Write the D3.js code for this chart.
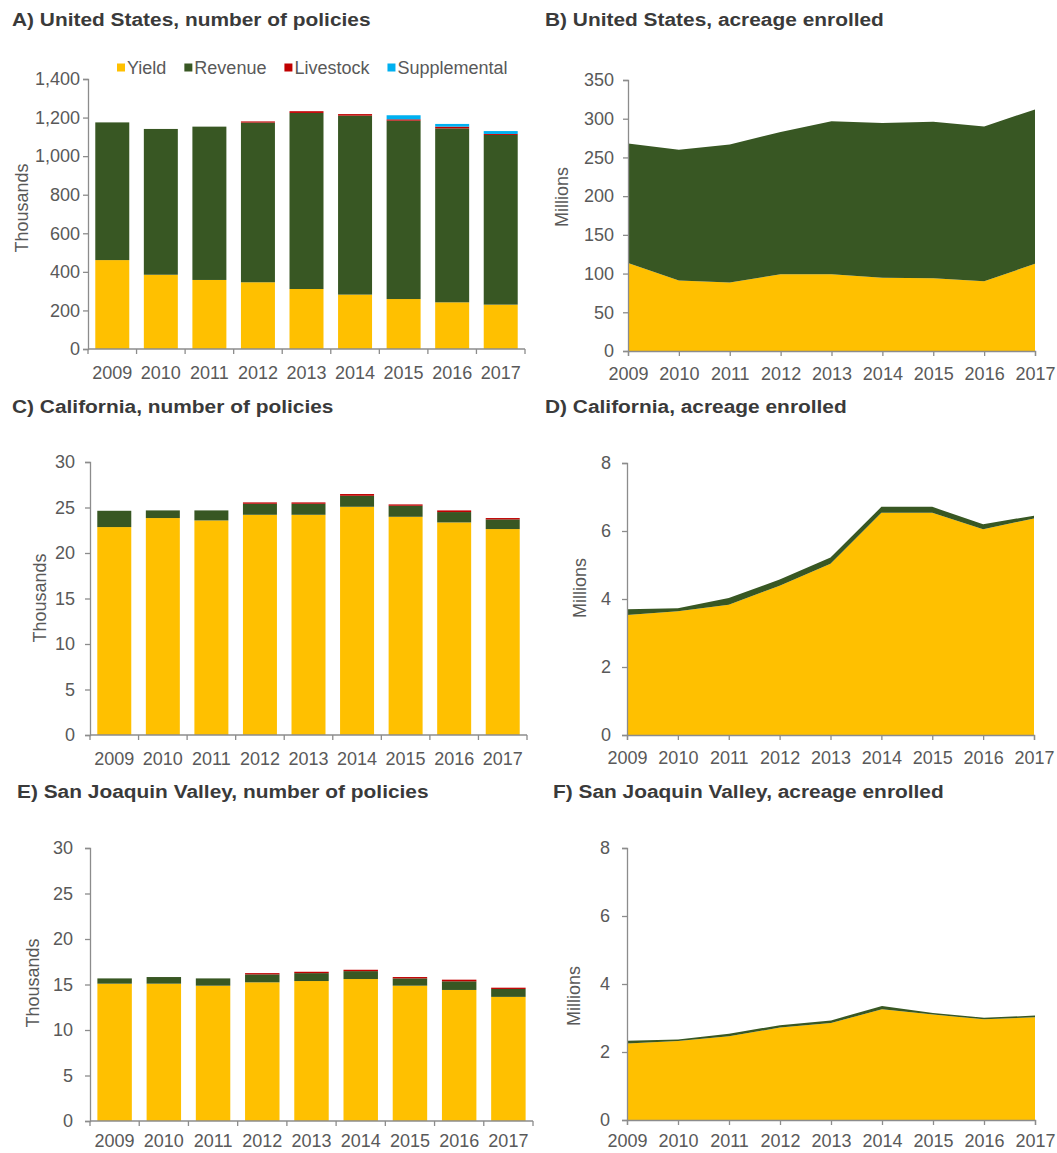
<!DOCTYPE html>
<html>
<head>
<meta charset="utf-8">
<script src="https://cdn.jsdelivr.net/npm/d3@7"></script>
<style>
  html, body { margin: 0; padding: 0; background: #fff; }
  svg { display: block; }
  text { font-family: "Liberation Sans", Arial, sans-serif; }
</style>
</head>
<body>
<svg id="chart" width="1057" height="1153"></svg>
<script>
// ---- Data -------------------------------------------------------------
const years = ["2009", "2010", "2011", "2012", "2013", "2014", "2015", "2016", "2017"];
const seriesNames = ["Yield", "Revenue", "Livestock", "Supplemental"];

// United States, number of policies (thousands)
const usPolYield        = [461, 385, 358, 346, 311, 282, 259, 242, 230];
const usPolRevenue      = [714, 756, 795, 828, 913, 928, 925, 902, 880];
const usPolLivestock    = [0, 0, 0, 6, 9, 8, 7, 9, 5];
const usPolSupplemental = [0, 0, 0, 0, 0, 0, 21, 14, 15];

// United States, acreage enrolled (millions)
const usAcreYield   = [113.5, 91, 88.6, 99, 99, 94.6, 94, 90, 112.6];
const usAcreRevenue = [154.5, 169, 178, 184, 197.6, 200, 202, 200, 199.4];

// California, number of policies (thousands)
const caPolYield        = [22.85, 23.84, 23.58, 24.2, 24.2, 25.08, 23.98, 23.36, 22.63];
const caPolRevenue      = [1.79, 0.84, 1.10, 1.21, 1.21, 1.21, 1.21, 1.14, 1.06];
const caPolLivestock    = [0, 0, 0, 0.15, 0.15, 0.19, 0.15, 0.18, 0.15];
const caPolSupplemental = [0, 0, 0, 0, 0, 0, 0, 0, 0];

// California, acreage enrolled (millions)
const caAcreYield   = [3.53, 3.64, 3.83, 4.39, 5.04, 6.54, 6.54, 6.05, 6.37];
const caAcreRevenue = [0.17, 0.09, 0.20, 0.18, 0.18, 0.17, 0.17, 0.15, 0.08];

// San Joaquin Valley, number of policies (thousands)
const sjvPolYield        = [15.09, 15.09, 14.87, 15.24, 15.38, 15.6, 14.87, 14.4, 13.64];
const sjvPolRevenue      = [0.58, 0.73, 0.80, 0.87, 0.87, 0.87, 0.80, 0.95, 0.87];
const sjvPolLivestock    = [0, 0, 0, 0.14, 0.15, 0.15, 0.15, 0.18, 0.14];
const sjvPolSupplemental = [0, 0, 0, 0, 0, 0, 0, 0, 0];

// San Joaquin Valley, acreage enrolled (millions)
const sjvAcreYield   = [2.25, 2.32, 2.46, 2.72, 2.85, 3.26, 3.1, 2.96, 3.02];
const sjvAcreRevenue = [0.08, 0.05, 0.08, 0.07, 0.08, 0.09, 0.05, 0.05, 0.05];

// ---- Styling ----------------------------------------------------------
const colors = { Yield: "#FFC000", Revenue: "#385723", Livestock: "#C00000", Supplemental: "#00B0F0" };
const textGray = "#595959";
const titleGray = "#3A3A3A";
const axisGray = "#8C8C8C";

const svg = d3.select("#chart");
svg.append("rect").attr("width", 1057).attr("height", 1153).attr("fill", "#fff");

function rows(cols) {
  return years.map((y, i) => {
    const r = { year: y };
    Object.keys(cols).forEach(k => r[k] = cols[k][i]);
    return r;
  });
}

function title(txt, x, y, sx) {
  svg.append("text")
    .attr("transform", `translate(${x},${y}) scale(${sx},1)`)
    .attr("font-size", 18.5).attr("font-weight", "bold")
    .attr("fill", titleGray).text(txt);
}

function yAxis(g, y, x0, ticks, fmt, pad) {
  const ax = d3.axisLeft(y).tickValues(ticks).tickFormat(fmt).tickSize(5).tickPadding(pad);
  const a = g.append("g").attr("transform", `translate(${x0},0)`).call(ax);
  a.select(".domain").attr("stroke", axisGray).attr("stroke-width", 1.3);
  a.selectAll(".tick line").attr("stroke", axisGray).attr("stroke-width", 1.3);
  a.selectAll("text").attr("font-size", 18).attr("fill", textGray)
    .attr("font-family", "Liberation Sans, Arial, sans-serif");
}

function yLabel(txt, x, y) {
  svg.append("text")
    .attr("transform", `translate(${x},${y}) rotate(-90)`)
    .attr("text-anchor", "middle").attr("dominant-baseline", "central")
    .attr("font-size", 18).attr("fill", textGray).text(txt);
}

// Stacked bar panel: policies by plan type
function barPanel(p) {
  const g = svg.append("g");
  const x = d3.scaleBand().domain(years).range([p.x0, p.x1]).paddingInner(0.3).paddingOuter(0.15);
  const y = d3.scaleLinear().domain([0, p.max]).range([p.yb, p.yt]);
  const data = rows(p.cols);
  const stack = d3.stack().keys(seriesNames)(data);

  g.selectAll("g.layer").data(stack).join("g")
    .attr("fill", d => colors[d.key])
    .selectAll("rect").data(d => d).join("rect")
    .attr("x", d => x(d.data.year))
    .attr("width", x.bandwidth())
    .attr("y", d => y(d[1]))
    .attr("height", d => Math.max(0, y(d[0]) - y(d[1])));

  yAxis(g, y, p.x0, p.ticks, p.fmt, p.pad);

  // category axis with ticks on the band boundaries
  const step = x.step();
  const bounds = d3.range(years.length + 1).map(i => p.x0 + i * step);
  g.append("line").attr("x1", p.x0).attr("x2", p.x1).attr("y1", p.yb).attr("y2", p.yb)
    .attr("stroke", axisGray).attr("stroke-width", 1.3);
  g.selectAll("line.bt").data(bounds).join("line").attr("class", "bt")
    .attr("x1", d => d).attr("x2", d => d).attr("y1", p.yb).attr("y2", p.yb + 5)
    .attr("stroke", axisGray).attr("stroke-width", 1.3);
  g.selectAll("text.yr").data(years).join("text").attr("class", "yr")
    .attr("x", d => x(d) + x.bandwidth() / 2).attr("y", p.yb + p.labelOff)
    .attr("text-anchor", "middle").attr("font-size", 18).attr("fill", textGray)
    .text(d => d);
}

// Stacked area panel: acreage enrolled
function areaPanel(p) {
  const g = svg.append("g");
  const x = d3.scalePoint().domain(years).range([p.x0, p.x1]);
  const y = d3.scaleLinear().domain([0, p.max]).range([p.yb, p.yt]);
  const data = rows(p.cols);
  const stack = d3.stack().keys(["Yield", "Revenue"])(data);
  const area = d3.area().x(d => x(d.data.year)).y0(d => y(d[0])).y1(d => y(d[1]));

  g.selectAll("path.layer").data(stack).join("path").attr("class", "layer")
    .attr("fill", d => colors[d.key]).attr("d", area);

  yAxis(g, y, p.x0, p.ticks, p.fmt, p.pad);

  const xa = d3.axisBottom(x).tickSize(5).tickPadding(p.xPad);
  const a = g.append("g").attr("transform", `translate(0,${p.yb})`).call(xa);
  a.select(".domain").attr("stroke", axisGray).attr("stroke-width", 1.3);
  a.selectAll(".tick line").attr("stroke", axisGray).attr("stroke-width", 1.3);
  a.selectAll("text").attr("font-size", 18).attr("fill", textGray)
    .attr("font-family", "Liberation Sans, Arial, sans-serif");
}

const commaFmt = d3.format(",");
const plainFmt = d3.format("d");

// ---- Panel A ----
title("A) United States, number of policies", 12, 26, 1.13);
barPanel({
  x0: 88, x1: 525, yt: 79, yb: 349, max: 1400, labelOff: 30,
  ticks: d3.range(0, 1401, 200), fmt: commaFmt, pad: 3,
  cols: { Yield: usPolYield, Revenue: usPolRevenue, Livestock: usPolLivestock, Supplemental: usPolSupplemental }
});
yLabel("Thousands", 22, 208);

// legend
(function legend() {
  const lg = svg.append("g");
  let cx = 117;
  seriesNames.forEach(name => {
    lg.append("rect").attr("x", cx).attr("y", 63.5).attr("width", 8).attr("height", 8)
      .attr("fill", colors[name]);
    const t = lg.append("text").attr("x", cx + 10).attr("y", 74)
      .attr("font-size", 18).attr("fill", textGray).text(name);
    cx += 10 + t.node().getComputedTextLength() + 18;
  });
})();

// ---- Panel B ----
title("B) United States, acreage enrolled", 545, 26, 1.13);
areaPanel({
  x0: 628, x1: 1035, yt: 80, yb: 351, max: 350, xPad: 11,
  ticks: d3.range(0, 351, 50), fmt: plainFmt, pad: 9,
  cols: { Yield: usAcreYield, Revenue: usAcreRevenue }
});
yLabel("Millions", 562, 197);

// ---- Panel C ----
title("C) California, number of policies", 12, 413, 1.13);
barPanel({
  x0: 90, x1: 527, yt: 462, yb: 735, max: 30, labelOff: 30,
  ticks: d3.range(0, 31, 5), fmt: plainFmt, pad: 10,
  cols: { Yield: caPolYield, Revenue: caPolRevenue, Livestock: caPolLivestock, Supplemental: caPolSupplemental }
});
yLabel("Thousands", 40, 598);

// ---- Panel D ----
title("D) California, acreage enrolled", 545, 413, 1.13);
areaPanel({
  x0: 627, x1: 1034, yt: 463, yb: 735, max: 8, xPad: 11,
  ticks: d3.range(0, 9, 2), fmt: plainFmt, pad: 11,
  cols: { Yield: caAcreYield, Revenue: caAcreRevenue }
});
yLabel("Millions", 580, 588);

// ---- Panel E ----
title("E) San Joaquin Valley, number of policies", 17, 798, 1.13);
barPanel({
  x0: 90, x1: 533, yt: 848, yb: 1121, max: 30, labelOff: 26,
  ticks: d3.range(0, 31, 5), fmt: plainFmt, pad: 12,
  cols: { Yield: sjvPolYield, Revenue: sjvPolRevenue, Livestock: sjvPolLivestock, Supplemental: sjvPolSupplemental }
});
yLabel("Thousands", 33, 983);

// ---- Panel F ----
title("F) San Joaquin Valley, acreage enrolled", 553, 798, 1.13);
areaPanel({
  x0: 627, x1: 1035, yt: 848, yb: 1120, max: 8, xPad: 9,
  ticks: d3.range(0, 9, 2), fmt: plainFmt, pad: 12,
  cols: { Yield: sjvAcreYield, Revenue: sjvAcreRevenue }
});
yLabel("Millions", 574, 996);
</script>
</body>
</html>
